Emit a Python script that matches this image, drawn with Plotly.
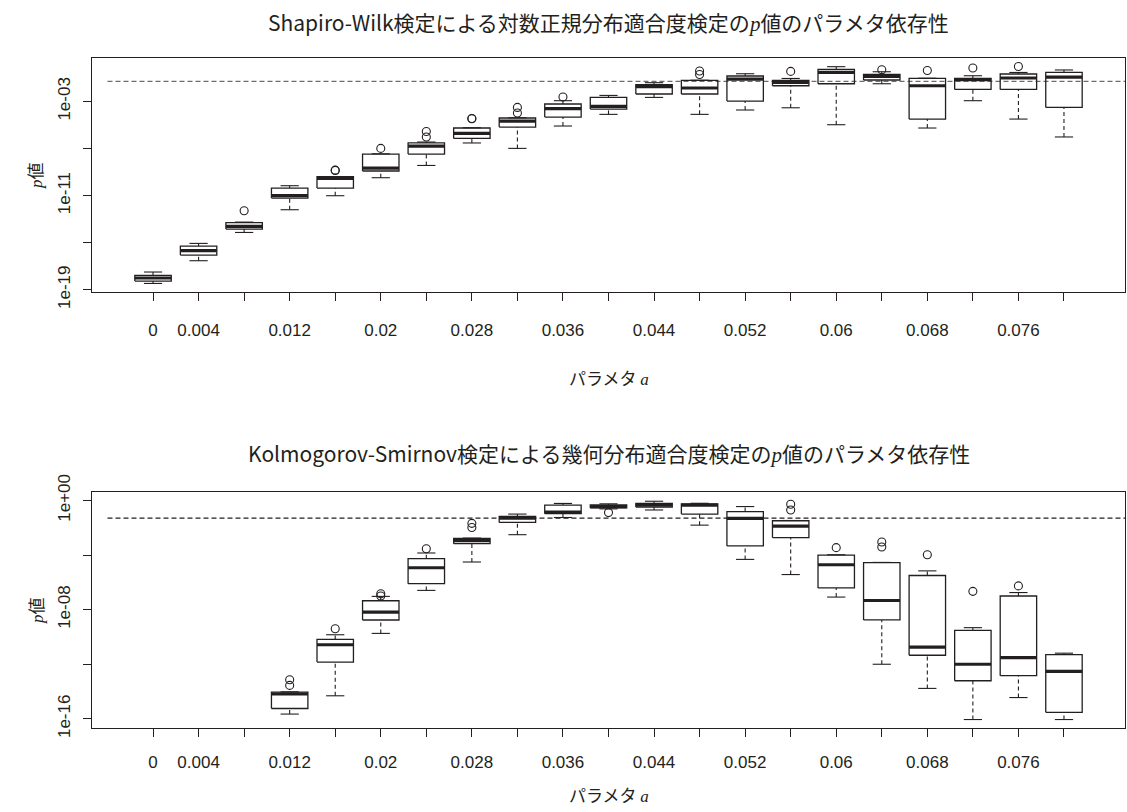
import plotly.graph_objects as go

# ---------------- data ----------------
# parameter a for each box (21 boxes)
a_values = ["0", "0.004", "0.008", "0.012", "0.016", "0.02", "0.024", "0.028", "0.032",
            "0.036", "0.04", "0.044", "0.048", "0.052", "0.056", "0.06", "0.064",
            "0.068", "0.072", "0.076", "0.08"]
# labels that R actually printed (others dropped for overlap)
x_tick_labels = ["0", "0.004", "", "0.012", "", "0.02", "", "0.028", "", "0.036", "",
                 "0.044", "", "0.052", "", "0.06", "", "0.068", "", "0.076", ""]

SIG_LEVEL = 0.05

# Shapiro-Wilk (log-normal fit) p-values, log10 scale
sw_whislo = [-18.46, -16.53, -14.13, -12.20, -11.01, -9.48, -8.44, -6.53, -6.99, -5.09, -4.10,
             -2.66, -4.10, -3.73, -3.54, -4.98, -1.50, -5.26, -2.94, -4.50, -6.02]
sw_q1 = [-18.26, -16.05, -13.84, -11.21, -10.36, -8.91, -7.47, -6.14, -5.18, -4.33, -3.65,
         -2.37, -2.37, -2.97, -1.67, -1.50, -1.18, -4.50, -1.98, -1.98, -3.51]
sw_median = [-18.00, -15.68, -13.62, -11.01, -9.54, -8.66, -6.79, -5.72, -4.67, -3.62, -3.42,
             -1.75, -1.86, -1.10, -1.39, -0.54, -0.88, -1.67, -1.16, -1.01, -0.93]
sw_q3 = [-17.78, -15.29, -13.30, -10.36, -9.40, -7.47, -6.53, -5.26, -4.41, -3.22, -2.66,
         -1.58, -1.22, -0.84, -1.22, -0.28, -0.71, -1.05, -1.05, -0.67, -0.54]
sw_whishi = [-17.49, -15.06, -13.25, -10.16, -9.38, -7.45, -6.45, -5.24, -4.39, -2.94, -2.49,
             -1.41, -1.20, -0.65, -1.05, -0.05, -0.48, -1.03, -0.82, -0.54, -0.33]
sw_outliers = [[], [], [-12.29], [], [-8.86, -8.84], [-6.99], [-6.02, -5.55], [-4.47, -4.45],
               [-3.99, -3.51], [-2.63], [], [], [-0.71, -0.42], [], [-0.45], [], [-0.31],
               [-0.37], [-0.16], [-0.03], []]

# Kolmogorov-Smirnov (geometric fit) p-values, log10 scale (None = no box)
ks_whislo = [None, None, None, -15.65, -14.31, -9.74, -6.59, -4.51, -2.51, -1.25, -0.62,
             -0.70, -1.81, -4.32, -5.43, -7.08, -12.00, -13.77, -16.05, -14.44, -16.05]
ks_q1 = [None, None, None, -15.24, -11.84, -8.76, -6.10, -3.17, -1.61, -0.97, -0.55,
         -0.48, -1.00, -3.33, -2.72, -6.41, -8.75, -11.34, -13.21, -12.84, -15.52]
ks_median = [None, None, None, -14.18, -10.57, -8.18, -4.93, -2.95, -1.29, -0.85, -0.45,
             -0.33, -0.35, -1.32, -1.88, -4.71, -7.33, -10.75, -12.00, -11.51, -12.52]
ks_q3 = [None, None, None, -14.04, -10.18, -7.35, -4.27, -2.78, -1.17, -0.34, -0.33,
         -0.21, -0.26, -0.82, -1.49, -4.00, -4.56, -5.50, -9.52, -7.00, -11.29]
ks_whishi = [None, None, None, -14.02, -9.84, -7.03, -3.85, -2.76, -1.00, -0.22, -0.25,
             -0.06, -0.21, -0.45, -1.47, -3.98, -4.54, -5.16, -9.32, -6.75, -11.19]
ks_outliers = [[], [], [], [-13.55, -13.14], [-9.40], [-7.00, -6.84], [-3.54], [-1.98, -1.68],
               [], [], [-0.89], [], [], [], [-0.70, -0.28], [-3.46], [-3.41, -3.04], [-3.98],
               [-6.66], [-6.26], []]

# ---------------- style ----------------
INK = "#231f20"
BOX_HALF = 0.4
STAPLE_HALF = 0.2
TICK_FONT = dict(family="Liberation Sans, Arial, sans-serif", size=17, color=INK)
CJK = "Noto Sans CJK JP"
P_ITAL = "<span style=\"font-family:'Liberation Serif'\"><i>p</i></span>"
A_ITAL = "<span style=\"font-family:'Liberation Serif'\"><i>a</i></span>"


def panel(fig, whislo, q1, med, q3, whishi, outs, xa, ya, hline_color):
    bx, by, mx, my, wx, wy, sx, sy, ox, oy = ([] for _ in range(10))
    for i in range(len(a_values)):
        if whislo[i] is None:
            continue
        x = i + 1
        lo, b1, md, b3, hi = (10 ** v for v in (whislo[i], q1[i], med[i], q3[i], whishi[i]))
        bx += [x - BOX_HALF, x + BOX_HALF, x + BOX_HALF, x - BOX_HALF, x - BOX_HALF, None]
        by += [b1, b1, b3, b3, b1, None]
        mx += [x - BOX_HALF, x + BOX_HALF, None]
        my += [md, md, None]
        wx += [x, x, None, x, x, None]
        wy += [lo, b1, None, b3, hi, None]
        sx += [x - STAPLE_HALF, x + STAPLE_HALF, None, x - STAPLE_HALF, x + STAPLE_HALF, None]
        sy += [lo, lo, None, hi, hi, None]
        for o in outs[i]:
            ox.append(x)
            oy.append(10 ** o)
    common = dict(xaxis=xa, yaxis=ya, showlegend=False, hoverinfo="skip")
    fig.add_trace(go.Scatter(x=[0, len(a_values) + 2], y=[SIG_LEVEL, SIG_LEVEL], mode="lines",
                             line=dict(color=hline_color, width=1.2, dash="5px,3px"), **common))
    fig.add_trace(go.Scatter(x=wx, y=wy, mode="lines",
                             line=dict(color=INK, width=1.1, dash="4px,3px"), **common))
    fig.add_trace(go.Scatter(x=sx, y=sy, mode="lines", line=dict(color=INK, width=1.1), **common))
    fig.add_trace(go.Scatter(x=bx, y=by, mode="lines", line=dict(color=INK, width=1.3), **common))
    fig.add_trace(go.Scatter(x=mx, y=my, mode="lines", line=dict(color=INK, width=3.2), **common))
    fig.add_trace(go.Scatter(x=ox, y=oy, mode="markers",
                             marker=dict(symbol="circle-open", size=8, color=INK,
                                         line=dict(width=1.1, color=INK)), **common))


fig = go.Figure()
panel(fig, sw_whislo, sw_q1, sw_median, sw_q3, sw_whishi, sw_outliers, "x", "y", "#6e6e6e")
panel(fig, ks_whislo, ks_q1, ks_median, ks_q3, ks_whishi, ks_outliers, "x2", "y2", INK)

xtick_pos = list(range(1, len(a_values) + 1))
xaxis_common = dict(range=[-0.34, 22.34], tickmode="array", tickvals=xtick_pos,
                    ticktext=x_tick_labels, ticks="outside", ticklen=8, tickwidth=1,
                    tickcolor=INK, showline=True, mirror=True, linecolor=INK, linewidth=1.3,
                    showgrid=False, zeroline=False, tickfont=TICK_FONT, automargin=False)
yaxis_common = dict(type="log", tickmode="array", ticks="outside", ticklen=8, tickwidth=1,
                    tickcolor=INK, showline=True, mirror=True, linecolor=INK, linewidth=1.3,
                    showgrid=False, zeroline=False, tickfont=TICK_FONT, tickangle=-90,
                    ticklabelstandoff=6, automargin=False)

fig.update_layout(
    width=1127, height=812,
    margin=dict(l=92, r=2, t=58, b=84, autoexpand=False),
    paper_bgcolor="white", plot_bgcolor="white",
    xaxis=dict(domain=[0, 1], anchor="y", ticklabelstandoff=14, **xaxis_common),
    xaxis2=dict(domain=[0, 1], anchor="y2", ticklabelstandoff=10, **xaxis_common),
    yaxis=dict(domain=[0.6507, 1.0], anchor="x", range=[-19.19, 0.687],
               tickvals=[1e-19, 1e-15, 1e-11, 1e-7, 1e-3],
               ticktext=["1e-19", "", "1e-11", "", "1e-03"], **yaxis_common),
    yaxis2=dict(domain=[0, 0.3522], anchor="x2", range=[-16.67, 0.615],
                tickvals=[1e-16, 1e-12, 1e-8, 1e-4, 1e0],
                ticktext=["1e-16", "", "1e-08", "", "1e+00"], **yaxis_common),
)

title_font = dict(family=CJK, size=21, color=INK)
label_font = dict(family=CJK, size=17, color=INK)
annots = [
    dict(text="Shapiro-Wilk検定による対数正規分布適合度検定の" + P_ITAL + "値のパラメタ依存性",
         x=0.5, y=1.0537, font=title_font),
    dict(text="Kolmogorov-Smirnov検定による幾何分布適合度検定の" + P_ITAL + "値のパラメタ依存性",
         x=0.5, y=0.4104, font=title_font),
    dict(text="パラメタ " + A_ITAL, x=0.5, y=0.5224, font=label_font),
    dict(text="パラメタ " + A_ITAL, x=0.5, y=-0.0995, font=label_font),
    dict(text=P_ITAL + "値", x=-0.0552, y=0.8254, font=label_font, textangle=-90),
    dict(text=P_ITAL + "値", x=-0.0552, y=0.176, font=label_font, textangle=-90),
]
for an in annots:
    fig.add_annotation(xref="paper", yref="paper", showarrow=False,
                       xanchor="center", yanchor="middle", **an)

fig.write_html("out.html",
               config={"displayModeBar": False, "staticPlot": True},
               post_script="document.body.style.margin='0px';"
                           "document.body.style.overflow='hidden';")
